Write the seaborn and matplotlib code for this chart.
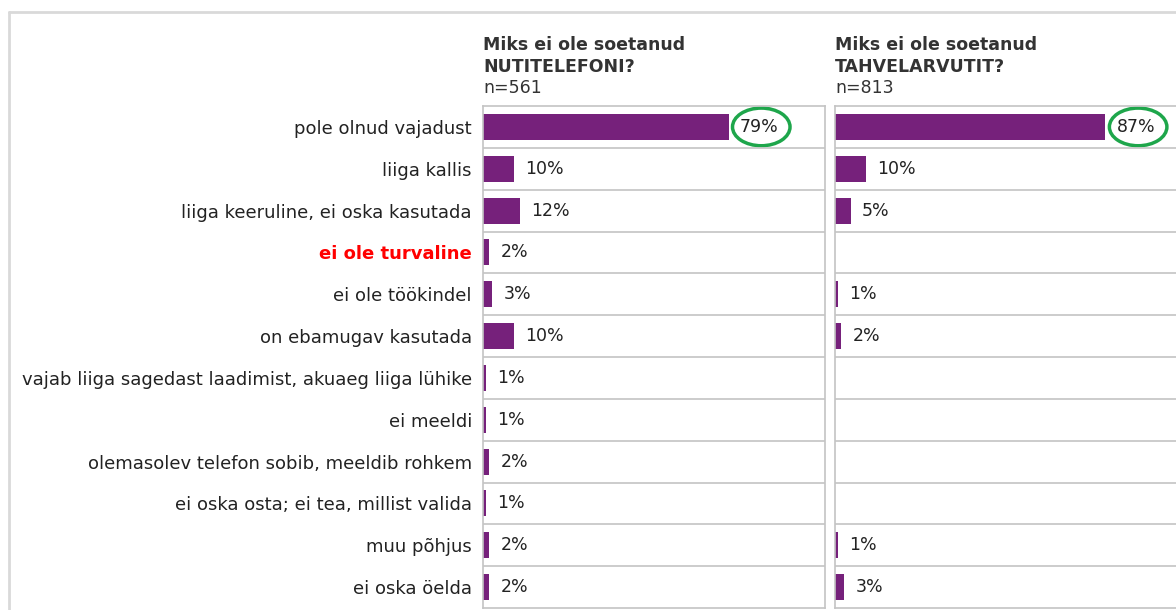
import pandas as pd
import numpy as np
import seaborn as sns
from matplotlib import pyplot as plt
from matplotlib.patches import Ellipse
from matplotlib.lines import Line2D

reasons = [
    'pole olnud vajadust',
    'liiga kallis',
    'liiga keeruline, ei oska kasutada',
    'ei ole turvaline',
    'ei ole töökindel',
    'on ebamugav kasutada',
    'vajab liiga sagedast laadimist, akuaeg liiga lühike',
    'ei meeldi',
    'olemasolev telefon sobib, meeldib rohkem',
    'ei oska osta; ei tea, millist valida',
    'muu põhjus',
    'ei oska öelda',
]
phone_pct = [79, 10, 12, 2, 3, 10, 1, 1, 2, 1, 2, 2]
tablet_pct = [87, 10, 5, None, 1, 2, None, None, None, None, 1, 3]

title_line1 = ['Miks ei ole soetanud', 'Miks ei ole soetanud']
title_line2 = ['NUTITELEFONI?', 'TAHVELARVUTIT?']
n_labels = ['n=561', 'n=813']
highlight = 'ei ole turvaline'

purple = '#76217b'
green = '#1ea64b'
grid_gray = '#c4c4c4'

sns.set_theme(style='white')
plt.rcParams['font.family'] = ['DejaVu Sans']

W, H = 1176, 610
fig = plt.figure(figsize=(W / 100, H / 100), dpi=100)

# outer frame lines (left and top)
fig.add_artist(Line2D([9 / W, 9 / W], [0, 1 - 12 / H], color='#d9d9d9', lw=2))
fig.add_artist(Line2D([9 / W, 1], [1 - 12 / H, 1 - 12 / H], color='#d9d9d9', lw=2))

panels = [(483, phone_pct), (835, tablet_pct)]
for i, (left_px, values) in enumerate(panels):
    ax = fig.add_axes([left_px / W, 2 / H, 342 / W, 502 / H])
    df = pd.DataFrame({'reason': reasons, 'pct': [0 if v is None else v for v in values]})
    sns.barplot(data=df, x='pct', y='reason', order=reasons, color=purple,
                width=0.62, linewidth=0, saturation=1, ax=ax)
    ax.set_xlim(0, 110)
    ax.set_ylim(len(reasons) - 0.5, -0.5)
    ax.set_xlabel('')
    ax.set_ylabel('')
    ax.set_xticks([])
    for s in ax.spines.values():
        s.set_color(grid_gray)
        s.set_linewidth(1.2)
    for k in range(len(reasons) - 1):
        ax.axhline(k + 0.5, color=grid_gray, lw=1.2)

    # value labels
    for k, v in enumerate(values):
        if v is None:
            continue
        ax.text(v + 3.6, k, f'{v}%', va='center', ha='left', fontsize=12.5, color='#222222')

    # green ellipse round the top value
    top = values[0]
    ax.add_patch(Ellipse((top + 10.5, 0), 18.5, 0.9, fill=False, edgecolor=green,
                         lw=2.5, clip_on=False))

    if i == 0:
        ax.tick_params(axis='y', length=0, pad=8, labelsize=13, labelcolor='#222222')
        for lab in ax.get_yticklabels():
            if lab.get_text() == highlight:
                lab.set_color('red')
                lab.set_fontweight('bold')
    else:
        ax.set_yticklabels([])
        ax.tick_params(axis='y', length=0)

    x0 = left_px / W
    fig.text(x0, 1 - 50 / H, title_line1[i], ha='left', va='baseline',
             fontsize=12.5, fontweight='bold', color='#333333')
    fig.text(x0, 1 - 72 / H, title_line2[i], ha='left', va='baseline',
             fontsize=12.5, fontweight='bold', color='#333333')
    fig.text(x0, 1 - 93 / H, n_labels[i], ha='left', va='baseline',
             fontsize=12.5, color='#333333')

fig.savefig('out.png', dpi=100)
